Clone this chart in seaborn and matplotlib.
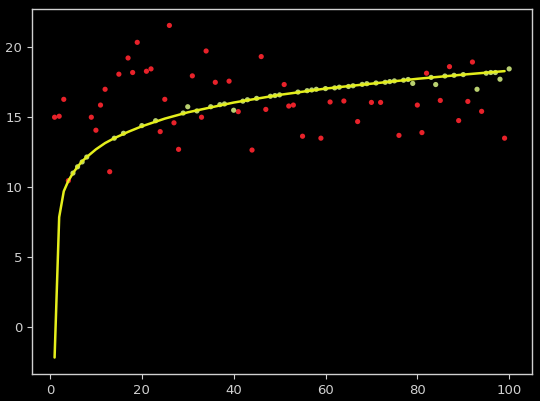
import matplotlib

matplotlib.use("Agg")
import matplotlib.pyplot as plt
import pandas as pd
import seaborn as sns

# Points far from the fit (red)
red_x = [1, 2, 3, 4, 9, 10, 11, 12, 13, 15, 17, 18, 19, 21, 22, 24, 25, 26, 27, 28,
         31, 33, 34, 36, 39, 41, 44, 46, 47, 51, 52, 53, 55, 59, 61, 64, 67, 70, 72, 76,
         80, 81, 82, 85, 87, 89, 91, 92, 94, 99]
red_y = [15.0, 15.07, 16.28, 10.46, 15.0, 14.07, 15.87, 17.0, 11.1, 18.08, 19.24, 18.2,
         20.36, 18.29, 18.46, 13.97, 16.28, 21.57, 14.6, 12.7, 17.96, 15.0, 19.74, 17.5,
         17.58, 15.4, 12.65, 19.34, 15.56, 17.34, 15.8, 15.87, 13.64, 13.5, 16.09, 16.16,
         14.69, 16.06, 16.06, 13.7, 15.87, 13.9, 18.15, 16.2, 18.62, 14.76, 16.13, 18.95,
         15.42, 13.5]

# Points close to the fit (green)
green_x = [5, 6, 7, 8, 14, 16, 20, 23, 29, 30, 32, 35, 37, 38, 40, 42, 43, 45, 48, 49,
           50, 54, 56, 57, 58, 60, 62, 63, 65, 66, 68, 69, 71, 73, 74, 75, 77, 78, 79, 83,
           84, 86, 88, 90, 93, 95, 96, 97, 98, 100]
green_y = [11.0, 11.45, 11.8, 12.15, 13.5, 13.85, 14.4, 14.75, 15.3, 15.75, 15.45, 15.75,
           15.9, 15.95, 15.5, 16.15, 16.25, 16.35, 16.5, 16.55, 16.6, 16.8, 16.9, 16.95,
           17.0, 17.05, 17.1, 17.15, 17.2, 17.25, 17.35, 17.4, 17.45, 17.5, 17.55, 17.6,
           17.65, 17.7, 17.42, 17.85, 17.34, 17.95, 18.0, 18.05, 17.0, 18.15, 18.2, 18.2,
           17.72, 18.46]

# Fitted curve
fit_x = [1, 2, 3, 4, 5, 6, 7, 8, 10, 12, 14, 17, 20, 25, 30, 35, 40, 50, 60, 70, 80, 90, 99]
fit_y = [-2.2, 7.85, 9.7, 10.45, 11.0, 11.45, 11.85, 12.15, 12.7, 13.15, 13.5, 13.95,
         14.35, 14.9, 15.35, 15.7, 16.05, 16.6, 17.05, 17.4, 17.75, 18.05, 18.3]

red = pd.DataFrame({"x": red_x, "y": red_y})
green = pd.DataFrame({"x": green_x, "y": green_y})
fit = pd.DataFrame({"x": fit_x, "y": fit_y})

plt.style.use("dark_background")
sns.set_style("dark", {"axes.facecolor": "black", "figure.facecolor": "black",
                       "axes.edgecolor": "#d0d0d0", "axes.grid": False,
                       "xtick.color": "#d0d0d0", "ytick.color": "#d0d0d0",
                       "xtick.bottom": True, "ytick.left": True,
                       "text.color": "#d0d0d0"})
plt.rcParams["font.family"] = ["DejaVu Sans"]

fig = plt.figure(figsize=(5.4, 4.01), dpi=100)
ax = fig.add_axes([0.059, 0.067, 0.926, 0.911])

sns.scatterplot(data=red, x="x", y="y", color="#e8222a", s=14, edgecolor="none", ax=ax)
sns.scatterplot(data=green, x="x", y="y", color="#b9d070", s=14, edgecolor="none", ax=ax)
sns.lineplot(data=fit, x="x", y="y", color="#e4ee1c", linewidth=1.8, ax=ax)

ax.set_xlabel("")
ax.set_ylabel("")
ax.set_xticks([0, 20, 40, 60, 80, 100])
ax.set_yticks([0, 5, 10, 15, 20])
ax.tick_params(labelsize=9.5, colors="#d0d0d0", length=3.5)
for spine in ax.spines.values():
    spine.set_color("#d0d0d0")
    spine.set_linewidth(1.0)

fig.savefig("out.png", dpi=100, facecolor="black")
